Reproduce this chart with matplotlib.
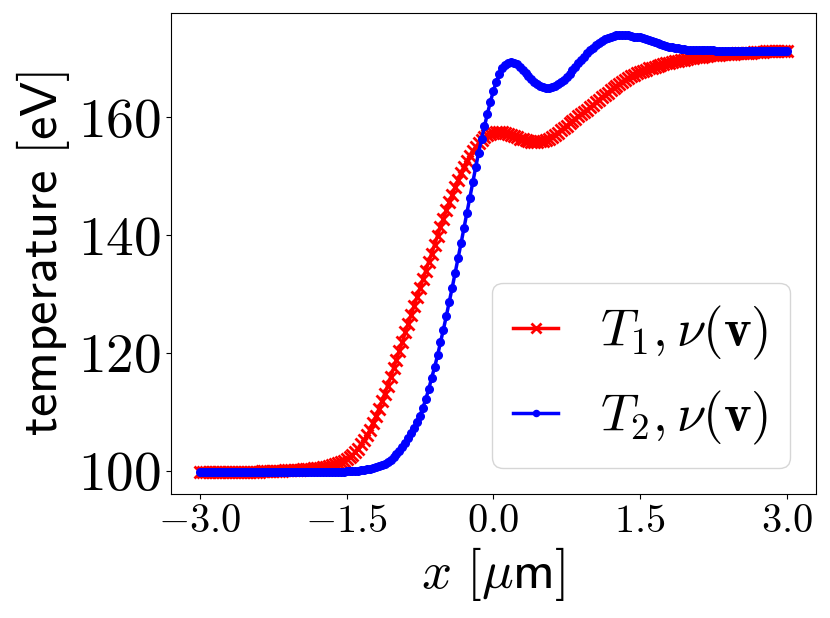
import numpy as np
import matplotlib
matplotlib.use("Agg")
import matplotlib.pyplot as plt

plt.rcParams['mathtext.fontset'] = 'cm'
plt.rcParams['font.family'] = 'serif'
plt.rcParams['font.serif'] = ['cmr10', 'DejaVu Serif']
plt.rcParams['axes.formatter.use_mathtext'] = True

# x grid (um), 201 samples from -3 to 3
x = np.linspace(-3.0, 3.0, 201)

T1 = [
    99.8, 99.8, 99.8, 99.8, 99.8, 99.8, 99.8, 99.8, 99.8, 99.8,
    99.8, 99.8, 99.85, 99.85, 99.85, 99.85, 99.85, 99.9, 99.9, 99.9,
    99.9, 99.95, 99.97, 99.99, 100.0, 100.02, 100.04, 100.06, 100.08, 100.1,
    100.12, 100.14, 100.17, 100.2, 100.22, 100.26, 100.3, 100.34, 100.39, 100.45,
    100.5, 100.58, 100.67, 100.76, 100.87, 101.0, 101.13, 101.3, 101.5, 101.73,
    102.0, 102.3, 102.7, 103.2, 103.8, 104.5, 105.3, 106.1, 107.0, 108.2,
    109.3, 110.5, 111.8, 113.1, 114.5, 115.9, 117.4, 118.9, 120.4, 121.9,
    123.5, 125.0, 126.5, 128.0, 129.5, 131.0, 132.5, 134.0, 135.5, 136.9,
    138.4, 139.9, 141.4, 142.8, 144.2, 145.6, 146.9, 148.2, 149.4, 150.5,
    151.6, 152.6, 153.5, 154.3, 155.0, 155.6, 156.1, 156.6, 157.0, 157.2,
    157.4, 157.5, 157.5, 157.5, 157.4, 157.2, 157.0, 156.8, 156.6, 156.4,
    156.3, 156.1, 156.0, 155.9, 155.9, 155.9, 155.95, 156.0, 156.2, 156.4,
    156.7, 157.0, 157.4, 157.8, 158.2, 158.6, 159.0, 159.4, 159.8, 160.2,
    160.5, 160.9, 161.3, 161.7, 162.1, 162.6, 163.0, 163.4, 163.8, 164.2,
    164.6, 165.0, 165.4, 165.7, 166.0, 166.4, 166.7, 167.0, 167.2, 167.5,
    167.7, 167.9, 168.1, 168.3, 168.4, 168.6, 168.7, 168.9, 169.0, 169.2,
    169.3, 169.4, 169.5, 169.6, 169.7, 169.8, 169.9, 170.0, 170.1, 170.2,
    170.2, 170.3, 170.4, 170.4, 170.5, 170.5, 170.6, 170.6, 170.7, 170.7,
    170.8, 170.8, 170.8, 170.9, 170.9, 170.9, 171.0, 171.0, 171.0, 171.1,
    171.1, 171.1, 171.1, 171.2, 171.2, 171.2, 171.2, 171.3, 171.3, 171.3,
    171.3,
]

T2 = [
    99.8, 99.8, 99.8, 99.8, 99.8, 99.8, 99.8, 99.8, 99.8, 99.8,
    99.8, 99.8, 99.8, 99.8, 99.8, 99.8, 99.8, 99.8, 99.8, 99.8,
    99.8, 99.8, 99.8, 99.8, 99.8, 99.8, 99.8, 99.8, 99.8, 99.8,
    99.8, 99.8, 99.8, 99.8, 99.8, 99.8, 99.8, 99.8, 99.8, 99.8,
    99.8, 99.8, 99.8, 99.8, 99.8, 99.82, 99.84, 99.86, 99.88, 99.9,
    99.92, 99.95, 99.98, 100.02, 100.07, 100.13, 100.2, 100.28, 100.38, 100.5,
    100.65, 100.8, 101.0, 101.25, 101.55, 101.9, 102.3, 102.8, 103.4, 104.1,
    104.8, 105.6, 106.4, 107.3, 108.3, 109.4, 110.7, 112.2, 113.9, 115.8,
    117.6, 119.6, 121.8, 124.0, 126.3, 128.7, 131.1, 133.6, 136.1, 138.6,
    141.2, 143.8, 146.4, 149.0, 151.5, 154.0, 156.3, 158.5, 160.6, 162.6,
    164.4, 166.0, 167.3, 168.3, 168.9, 169.3, 169.4, 169.3, 169.0, 168.6,
    168.1, 167.6, 167.0, 166.5, 166.0, 165.6, 165.3, 165.1, 165.0, 165.0,
    165.1, 165.3, 165.6, 166.0, 166.4, 166.9, 167.4, 168.0, 168.6, 169.2,
    169.8, 170.3, 170.9, 171.4, 171.8, 172.3, 172.7, 173.0, 173.3, 173.5,
    173.7, 173.8, 173.9, 173.9, 174.0, 173.9, 173.9, 173.8, 173.7, 173.7,
    173.6, 173.5, 173.3, 173.2, 173.0, 172.8, 172.6, 172.4, 172.3, 172.1,
    172.0, 171.9, 171.8, 171.7, 171.6, 171.6, 171.5, 171.5, 171.4, 171.4,
    171.4, 171.4, 171.4, 171.35, 171.35, 171.35, 171.3, 171.3, 171.3, 171.3,
    171.3, 171.3, 171.3, 171.3, 171.3, 171.3, 171.3, 171.3, 171.3, 171.3,
    171.3, 171.3, 171.3, 171.3, 171.3, 171.3, 171.3, 171.3, 171.3, 171.3,
    171.3,
]

labels = [r'$T_1, \nu(\mathbf{v})$', r'$T_2, \nu(\mathbf{v})$']
xticks = [-3.0, -1.5, 0.0, 1.5, 3.0]
yticks = [100, 120, 140, 160]

fig = plt.figure(figsize=(8.3, 6.18), dpi=100)
ax = fig.add_axes([0.2055, 0.2006, 0.7776, 0.7784])

ax.plot(x, T1, color='red', marker='x', linestyle='-', linewidth=2.5,
        markersize=9, markeredgewidth=2.0, label=labels[0])
ax.plot(x, T2, color='blue', marker='.', linestyle='-', linewidth=2.5,
        markersize=11, label=labels[1])

ax.set_xticks(xticks)
ax.set_yticks(yticks)
ax.xaxis.set_major_formatter(matplotlib.ticker.FormatStrFormatter(r'$%.1f$'))
ax.tick_params(axis='x', labelsize=29)
ax.tick_params(axis='y', labelsize=40)

ax.set_xlabel(r'$x\ [\mu\mathsf{m}]$', fontsize=38)
ax.set_ylabel(r'$\mathsf{temperature\ [eV]}$', fontsize=38)

ax.legend(loc='lower right', fontsize=38, handlelength=0.85, markerscale=0.8)

fig.savefig('out.png', dpi=100)
